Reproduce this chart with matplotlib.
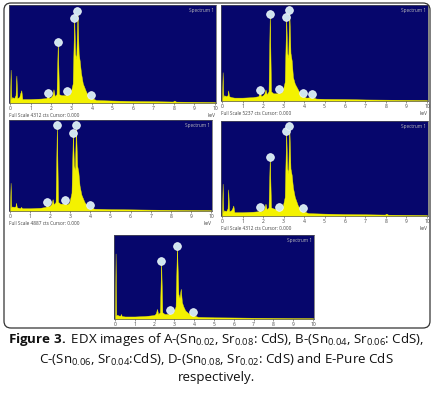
import matplotlib
matplotlib.use('Agg')
import matplotlib.pyplot as plt
from matplotlib.patches import FancyBboxPatch

W, H = 433, 393

plt.rcParams['font.family'] = ['Open Sans', 'DejaVu Sans']
plt.rcParams['mathtext.fontset'] = 'custom'
plt.rcParams['mathtext.rm'] = 'Open Sans'
plt.rcParams['mathtext.bf'] = 'Open Sans:bold'
plt.rcParams['mathtext.it'] = 'Open Sans:italic'

kev_ticks = list(range(11))

# A - (Sn0.02, Sr0.08 : CdS)
a_kev = [0.0, 0.03, 0.06, 0.1, 0.2, 0.27, 0.31, 0.35, 0.45, 0.5, 0.55, 0.6, 0.7, 1.0, 1.5,
         1.78, 1.84, 1.9, 2.0, 2.07, 2.12, 2.18, 2.27, 2.33, 2.39, 2.5, 2.7, 2.76, 2.82, 2.95,
         3.06, 3.13, 3.18, 3.23, 3.29, 3.35, 3.4, 3.46, 3.55, 3.7, 3.85, 3.92, 3.96, 4.0, 4.2,
         5.0, 6.0, 7.0, 7.95, 8.02, 8.1, 9.0, 10.0]
a_cts = [0.02, 0.34, 0.04, 0.06, 0.05, 0.08, 0.28, 0.05, 0.06, 0.1, 0.13, 0.04, 0.04, 0.04, 0.045,
         0.05, 0.1, 0.05, 0.06, 0.08, 0.14, 0.07, 0.09, 0.62, 0.09, 0.08, 0.08, 0.12, 0.08, 0.1,
         0.2, 0.87, 0.5, 0.45, 0.94, 0.5, 0.43, 0.31, 0.2, 0.12, 0.06, 0.07, 0.08, 0.05, 0.03,
         0.025, 0.02, 0.018, 0.015, 0.025, 0.014, 0.012, 0.01]
a_mark_kev = [1.84, 2.33, 2.76, 3.13, 3.29, 3.96]
a_mark_cts = [0.1, 0.62, 0.12, 0.87, 0.94, 0.08]

# B - (Sn0.04, Sr0.06 : CdS)
b_kev = [0.0, 0.03, 0.06, 0.1, 0.2, 0.27, 0.3, 0.34, 0.45, 0.6, 1.0, 1.5, 1.78, 1.84, 1.9,
         2.0, 2.07, 2.12, 2.18, 2.27, 2.33, 2.39, 2.5, 2.7, 2.76, 2.82, 2.95, 3.06, 3.13, 3.18,
         3.23, 3.28, 3.34, 3.4, 3.46, 3.55, 3.7, 3.85, 3.92, 3.96, 4.0, 4.1, 4.35, 4.4, 4.45,
         4.6, 5.0, 6.0, 7.0, 8.0, 9.0, 10.0]
b_cts = [0.02, 0.30, 0.04, 0.06, 0.05, 0.06, 0.11, 0.05, 0.04, 0.035, 0.035, 0.04, 0.05, 0.11, 0.05,
         0.06, 0.08, 0.12, 0.07, 0.1, 0.91, 0.1, 0.08, 0.08, 0.12, 0.08, 0.1, 0.2, 0.87, 0.5,
         0.45, 0.95, 0.5, 0.42, 0.25, 0.18, 0.12, 0.06, 0.07, 0.08, 0.05, 0.035, 0.04, 0.07, 0.035,
         0.025, 0.022, 0.02, 0.016, 0.014, 0.012, 0.01]
b_mark_kev = [1.84, 2.33, 2.76, 3.13, 3.28, 3.96, 4.4]
b_mark_cts = [0.11, 0.91, 0.12, 0.87, 0.95, 0.08, 0.07]

# C - (Sn0.06, Sr0.04 : CdS)
c_kev = [0.0, 0.03, 0.06, 0.1, 0.2, 0.27, 0.3, 0.34, 0.5, 0.55, 0.6, 1.0, 1.5, 1.78, 1.84,
         1.9, 2.0, 2.07, 2.12, 2.18, 2.27, 2.33, 2.39, 2.5, 2.7, 2.76, 2.82, 2.95, 3.06, 3.13,
         3.18, 3.23, 3.28, 3.34, 3.4, 3.46, 3.55, 3.7, 3.85, 3.92, 3.96, 4.0, 4.2, 5.0, 6.0,
         7.0, 8.0, 9.0, 10.0]
c_cts = [0.02, 0.31, 0.04, 0.05, 0.045, 0.05, 0.09, 0.04, 0.03, 0.045, 0.03, 0.03, 0.035, 0.045, 0.1,
         0.05, 0.06, 0.08, 0.13, 0.07, 0.1, 0.94, 0.1, 0.08, 0.08, 0.12, 0.07, 0.09, 0.2, 0.86,
         0.5, 0.45, 0.94, 0.5, 0.43, 0.28, 0.18, 0.1, 0.05, 0.06, 0.07, 0.04, 0.025, 0.02, 0.018,
         0.015, 0.013, 0.011, 0.01]
c_mark_kev = [1.84, 2.33, 2.76, 3.13, 3.28, 3.96]
c_mark_cts = [0.1, 0.94, 0.12, 0.86, 0.94, 0.07]

# D - (Sn0.08, Sr0.02 : CdS)
d_kev = [0.0, 0.03, 0.06, 0.1, 0.2, 0.27, 0.3, 0.35, 0.45, 0.5, 0.55, 0.6, 0.7, 1.0, 1.5,
         1.78, 1.84, 1.9, 2.0, 2.07, 2.12, 2.18, 2.27, 2.33, 2.39, 2.5, 2.7, 2.76, 2.82, 2.95,
         3.06, 3.13, 3.18, 3.23, 3.28, 3.34, 3.4, 3.46, 3.55, 3.7, 3.85, 3.92, 3.96, 4.0, 4.2,
         5.0, 6.0, 7.0, 7.95, 8.02, 8.1, 9.0, 10.0]
d_cts = [0.02, 0.34, 0.04, 0.06, 0.05, 0.08, 0.28, 0.05, 0.06, 0.08, 0.11, 0.04, 0.04, 0.04, 0.045,
         0.05, 0.1, 0.05, 0.06, 0.08, 0.13, 0.07, 0.09, 0.62, 0.09, 0.08, 0.07, 0.1, 0.07, 0.09,
         0.2, 0.89, 0.5, 0.45, 0.95, 0.5, 0.43, 0.3, 0.2, 0.11, 0.06, 0.07, 0.08, 0.05, 0.03,
         0.025, 0.02, 0.018, 0.015, 0.025, 0.014, 0.012, 0.01]
d_mark_kev = [1.84, 2.33, 2.76, 3.13, 3.28, 3.96]
d_mark_cts = [0.1, 0.62, 0.1, 0.89, 0.95, 0.08]

# E - pure CdS
e_kev = [0.0, 0.03, 0.06, 0.1, 0.2, 0.27, 0.3, 0.34, 0.5, 1.0, 1.5, 1.9, 2.0, 2.07, 2.12,
         2.18, 2.27, 2.33, 2.39, 2.5, 2.7, 2.76, 2.82, 2.95, 3.06, 3.13, 3.2, 3.26, 3.32, 3.38,
         3.45, 3.55, 3.7, 3.85, 3.92, 3.96, 4.0, 4.2, 5.0, 6.0, 7.0, 8.0, 9.0, 10.0]
e_cts = [0.02, 0.78, 0.04, 0.05, 0.04, 0.04, 0.06, 0.035, 0.03, 0.03, 0.035, 0.045, 0.05, 0.07, 0.12,
         0.06, 0.08, 0.69, 0.08, 0.06, 0.06, 0.11, 0.06, 0.08, 0.15, 0.87, 0.3, 0.25, 0.36, 0.2,
         0.15, 0.1, 0.07, 0.05, 0.06, 0.08, 0.04, 0.025, 0.02, 0.018, 0.015, 0.013, 0.011, 0.01]
e_mark_kev = [2.33, 2.76, 3.13, 3.96]
e_mark_cts = [0.69, 0.11, 0.87, 0.08]

full_scale = ['4312', '5237', '4887', '4312']

# plot areas in pixels (left, top, right, bottom)
boxes = [(9, 5, 216, 103), (221, 5, 428, 101), (9, 120, 212, 211),
         (221, 121, 428, 216), (114, 235, 314, 319)]
spectra = [(a_kev, a_cts, a_mark_kev, a_mark_cts),
           (b_kev, b_cts, b_mark_kev, b_mark_cts),
           (c_kev, c_cts, c_mark_kev, c_mark_cts),
           (d_kev, d_cts, d_mark_kev, d_mark_cts),
           (e_kev, e_cts, e_mark_kev, e_mark_cts)]

bg = '#06066c'
yellow = '#f4f200'

fig = plt.figure(figsize=(W / 100, H / 100), dpi=100)
fig.patch.set_facecolor('white')

# rounded frame around the panels
frame = FancyBboxPatch((0.04, (H - 328) / 100), 4.26, 3.25,
                       boxstyle='round,pad=0,rounding_size=0.07',
                       transform=fig.dpi_scale_trans, fill=False,
                       edgecolor='#333333', lw=0.9)
fig.add_artist(frame)

for i, ((x0, y0, x1, y1), (kev, cts, mk, mc)) in enumerate(zip(boxes, spectra)):
    ax = fig.add_axes([x0 / W, 1 - y1 / H, (x1 - x0) / W, (y1 - y0) / H])
    ax.set_facecolor(bg)
    ax.fill_between(kev, cts, 0, color=yellow, lw=0.3)
    ax.plot(mk, mc, 'o', ms=5.5, mfc='#cfe4ef', mec='#eef6fa', mew=0.6)
    ax.set_xlim(-0.05, 10.05)
    ax.set_ylim(0, 1.0)
    ax.set_xticks(kev_ticks)
    ax.set_xticklabels([str(t) for t in kev_ticks])
    ax.set_yticks([])
    ax.tick_params(axis='x', labelsize=3.6, length=1.5, width=0.4, pad=1,
                   colors='#444444')
    for s in ax.spines.values():
        s.set_color('#555555')
        s.set_linewidth(0.5)
    ax.text(0.99, 0.97, 'Spectrum 1', transform=ax.transAxes, ha='right', va='top',
            fontsize=3.4, color='#bbbbbb')
    if i < 4:
        ax.annotate('Full Scale %s cts Cursor: 0.000' % full_scale[i], xy=(0, 0),
                    xycoords='axes fraction', xytext=(0, -7.5), textcoords='offset points',
                    ha='left', va='top', fontsize=3.4, color='#444444')
        ax.annotate('keV', xy=(1, 0), xycoords='axes fraction', xytext=(0, -7.5),
                    textcoords='offset points', ha='right', va='top', fontsize=3.4,
                    color='#444444')

cap1 = (r'$\mathbf{Figure\ 3.}$ EDX images of A-(Sn$_{0.02}$, Sr$_{0.08}$: CdS), '
        r'B-(Sn$_{0.04}$, Sr$_{0.06}$: CdS),')
cap2 = r'C-(Sn$_{0.06}$, Sr$_{0.04}$:CdS), D-(Sn$_{0.08}$, Sr$_{0.02}$: CdS) and E-Pure CdS'
cap3 = 'respectively.'
fig.text(0.5, 1 - 340 / H, cap1, ha='center', va='center', fontsize=9.6, color='#111111')
fig.text(0.5, 1 - 360 / H, cap2, ha='center', va='center', fontsize=9.6, color='#111111')
fig.text(0.5, 1 - 378 / H, cap3, ha='center', va='center', fontsize=9.6, color='#111111')

fig.savefig('out.png', dpi=100)
